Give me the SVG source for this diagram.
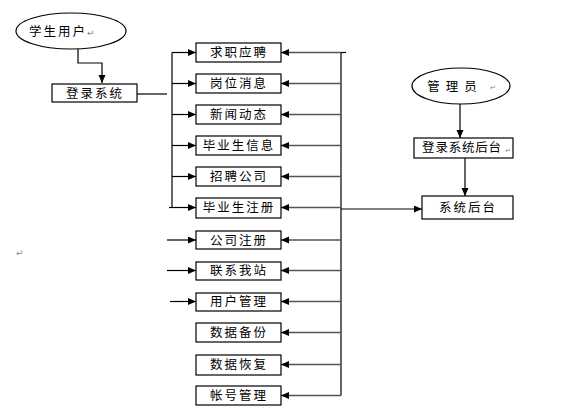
<svg xmlns="http://www.w3.org/2000/svg" width="571" height="412" viewBox="0 0 571 412">
<style>
.box{fill:#fff;stroke:#000;stroke-width:1.2}
.ell{fill:#fff;stroke:#000;stroke-width:1.2}
.t{font-family:"Noto Sans CJK SC","Noto Sans",sans-serif;font-size:12.5px;fill:#000;text-anchor:middle;letter-spacing:2px}
.m{font-family:"DejaVu Sans",sans-serif;font-size:9px;fill:#888}
.c{fill:none;stroke:#000;stroke-width:1.2}
.g{fill:none;stroke:#555;stroke-width:1.4}
</style>
<defs>
<marker id="ah" markerUnits="userSpaceOnUse" markerWidth="9" markerHeight="8" refX="8" refY="3.5" orient="auto">
<path d="M0,0 L8,3.5 L0,7 z" fill="#000"/>
</marker>
</defs>
<rect width="571" height="412" fill="#fff"/>
<g id="connectors">
<path class="c" d="M78,49 V63 H102 V83" marker-end="url(#ah)"/>
<path class="c" d="M137,94 H167"/>
<path class="c" d="M172,52.5 V207.5"/>
<path class="c" d="M172,52.5 H196" marker-end="url(#ah)"/>
<path class="c" d="M172,83.5 H196" marker-end="url(#ah)"/>
<path class="c" d="M172,114.5 H196" marker-end="url(#ah)"/>
<path class="c" d="M172,145.5 H196" marker-end="url(#ah)"/>
<path class="c" d="M172,176.5 H196" marker-end="url(#ah)"/>
<path class="c" d="M169,207.5 H196" marker-end="url(#ah)"/>
<path class="c" d="M167,240 H196" marker-end="url(#ah)"/>
<path class="c" d="M167,270.5 H196" marker-end="url(#ah)"/>
<path class="c" d="M170,301.5 H196" marker-end="url(#ah)"/>
<path class="c" d="M341,52.5 V395.5"/>
<path class="c" d="M346,52.5 H341"/>
<path class="g" d="M341,52.5 H281" marker-end="url(#ah)"/>
<path class="g" d="M341,83.5 H281" marker-end="url(#ah)"/>
<path class="g" d="M341,114.5 H281" marker-end="url(#ah)"/>
<path class="g" d="M341,145.5 H281" marker-end="url(#ah)"/>
<path class="g" d="M341,176.5 H281" marker-end="url(#ah)"/>
<path class="g" d="M341,207.5 H281" marker-end="url(#ah)"/>
<path class="c" d="M341,209 H422" marker-end="url(#ah)"/>
<path class="g" d="M341,240 H281" marker-end="url(#ah)"/>
<path class="g" d="M341,270.5 H281" marker-end="url(#ah)"/>
<path class="g" d="M341,301.5 H281" marker-end="url(#ah)"/>
<path class="g" d="M341,332.5 H281" marker-end="url(#ah)"/>
<path class="g" d="M341,364.5 H281" marker-end="url(#ah)"/>
<path class="g" d="M341,395.5 H281" marker-end="url(#ah)"/>
<path class="c" d="M460,104 V138" marker-end="url(#ah)"/>
<path class="c" d="M465,158 V196" marker-end="url(#ah)"/>
</g>
<g id="student"><ellipse class="ell" cx="71" cy="31" rx="55" ry="18"/><text class="t" x="58" y="36">学生用户</text><text class="m" x="87" y="36">↵</text></g>
<g id="login"><rect class="box" x="52" y="84" width="85" height="18"/><text class="t" x="95" y="98">登录系统</text></g>
<g id="n1"><rect class="box" x="196" y="43" width="85" height="19"/><text class="t" x="239" y="57">求职应聘</text></g>
<g id="n2"><rect class="box" x="196" y="74" width="85" height="19"/><text class="t" x="239" y="88">岗位消息</text></g>
<g id="n3"><rect class="box" x="196" y="105" width="85" height="19"/><text class="t" x="239" y="119">新闻动态</text></g>
<g id="n4"><rect class="box" x="196" y="136" width="85" height="19"/><text class="t" x="239" y="150">毕业生信息</text></g>
<g id="n5"><rect class="box" x="196" y="167" width="85" height="19"/><text class="t" x="239" y="181">招聘公司</text></g>
<g id="n6"><rect class="box" x="196" y="198" width="85" height="20"/><text class="t" x="239" y="212">毕业生注册</text></g>
<g id="n7"><rect class="box" x="196" y="231" width="85" height="18"/><text class="t" x="239" y="245">公司注册</text></g>
<g id="n8"><rect class="box" x="196" y="262" width="85" height="18"/><text class="t" x="239" y="275">联系我站</text></g>
<g id="n9"><rect class="box" x="196" y="293" width="85" height="18"/><text class="t" x="239" y="306">用户管理</text></g>
<g id="n10"><rect class="box" x="196" y="323" width="85" height="19"/><text class="t" x="239" y="337">数据备份</text></g>
<g id="n11"><rect class="box" x="196" y="355" width="85" height="20"/><text class="t" x="239" y="369">数据恢复</text></g>
<g id="n12"><rect class="box" x="196" y="386" width="85" height="19"/><text class="t" x="239" y="400">帐号管理</text></g>
<g id="admin"><ellipse class="ell" cx="461" cy="86" rx="49" ry="18"/><text class="t" x="455" y="91" style="letter-spacing:6px">管理员</text><text class="m" x="490" y="90" style="font-size:7px">↵</text></g>
<g id="adminlogin"><rect class="box" x="414" y="138" width="99" height="20"/><text class="t" x="462" y="152" style="letter-spacing:0.8px">登录系统后台</text><text class="m" x="505" y="153" style="font-size:7px">↵</text></g>
<g id="backend"><rect class="box" x="422" y="196" width="91" height="23"/><text class="t" x="468" y="212">系统后台</text></g>
<text class="m" x="16" y="256">↵</text>
</svg>
